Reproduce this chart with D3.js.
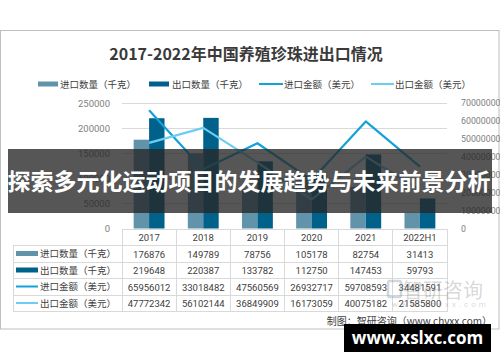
<!DOCTYPE html>
<html><head><meta charset="utf-8">
<script src="https://cdn.jsdelivr.net/npm/d3@7/dist/d3.min.js"></script>
<style>body{margin:0;background:#fff}svg{display:block}</style>
</head><body>
<svg id="c" width="500" height="362"></svg>
<script>
const categories = ["2017","2018","2019","2020","2021","2022H1"];
const importQty = [176876,149789,78756,105178,82754,31413];
const exportQty = [219648,220387,133782,112750,147453,59793];
const importAmt = [65956012,33018482,47560569,26932717,59708593,34481591];
const exportAmt = [47772342,56102144,36849909,16173059,40075182,21585800];
const leftTicks = [0,50000,100000,150000,200000,250000];
const rightTicks = [0,10000000,20000000,30000000,40000000,50000000,60000000,70000000];
const seriesNames = ["进口数量（千克）","出口数量（千克）","进口金额（美元）","出口金额（美元）"];
const title = "2017-2022年中国养殖珍珠进出口情况";
const source = "制图：智研咨询（www.chyxx.com）";
const bannerText = "探索多元化运动项目的发展趋势与未来前景分析";
const siteText = "www.xslxc.com";

const colors = ["#6193ab","#00618a","#12a2db","#6ccdf4"];
const cjk = "'Noto Sans CJK SC','Noto Sans',sans-serif";
const num = "Roboto,'Noto Sans',sans-serif";

const svg = d3.select("#c");
const L = 122, R = 447, T = 103, B = 228.5;

svg.append("rect").attr("x",0.5).attr("y",30.5).attr("width",498.5).attr("height",298.5)
  .attr("fill","#fff").attr("stroke","#bfbfbf");

svg.append("text").attr("x",246).attr("y",60).attr("text-anchor","middle")
  .attr("font-family",cjk).attr("font-weight","bold").attr("font-size",16).attr("fill","#3a3a3a").text(title);

// legend
const legX = [[38,58,60],[149,169,172],[259,283,284],[371,394,395]];
seriesNames.forEach((n,i)=>{
  const [a,b,t] = legX[i];
  if(i<2) svg.append("rect").attr("x",a).attr("y",81.5).attr("width",b-a).attr("height",5).attr("fill",colors[i]);
  else svg.append("line").attr("x1",a).attr("x2",b).attr("y1",84).attr("y2",84).attr("stroke",colors[i]).attr("stroke-width",2);
  svg.append("text").attr("x",t).attr("y",87.5).attr("font-family",cjk).attr("font-size",9.5).attr("fill","#404040").text(n);
});

const x = d3.scaleBand().domain(categories).range([L,R]).paddingInner(0.43).paddingOuter(0.215);
const xs = d3.scaleBand().domain([0,1]).range([0,x.bandwidth()]);
const yL = d3.scaleLinear().domain([0,250000]).range([B,T]);
const yR = d3.scaleLinear().domain([0,70000000]).range([B,T]);
const step = x.step();
const colStart = L;

// gridlines
svg.append("g").selectAll("line").data(leftTicks.slice(1)).join("line")
  .attr("x1",L).attr("x2",R).attr("y1",d=>Math.round(yL(d))+0.5).attr("y2",d=>Math.round(yL(d))+0.5)
  .attr("stroke","#d9d9d9");

// left axis
const gl = svg.append("g").attr("transform",`translate(${L-9},0)`)
  .call(d3.axisLeft(yL).tickValues(leftTicks).tickSize(0).tickFormat(d3.format("d")));
gl.select(".domain").remove();
gl.selectAll("text").attr("font-family",num).attr("font-size",9.5).attr("fill","#7f7f7f").attr("dx",0);
// right axis
const gr = svg.append("g").attr("transform",`translate(${R+11},0)`)
  .call(d3.axisRight(yR).tickValues(rightTicks).tickSize(0).tickFormat(d3.format("d")));
gr.select(".domain").remove();
gr.selectAll("text").attr("font-family",num).attr("font-size",8.8).attr("fill","#7f7f7f").attr("dx",0);

// bars
[importQty,exportQty].forEach((arr,s)=>{
  svg.append("g").selectAll("rect").data(arr).join("rect")
    .attr("x",(d,i)=>x(categories[i])+xs(s)).attr("width",xs.bandwidth())
    .attr("y",d=>yL(d)).attr("height",d=>B-yL(d)).attr("fill",colors[s]);
});
// lines
[importAmt,exportAmt].forEach((arr,s)=>{
  const line = d3.line().x((d,i)=>x(categories[i])+x.bandwidth()/2).y(d=>yR(d));
  svg.append("path").datum(arr).attr("d",line).attr("fill","none")
    .attr("stroke",colors[s+2]).attr("stroke-width",2.2).attr("stroke-linejoin","round");
});

// table
const rowY = [229,245.5,262,278.5,295,311.5];
const tg = svg.append("g").attr("stroke","#d9d9d9").attr("shape-rendering","crispEdges");
tg.append("line").attr("x1",L).attr("x2",R).attr("y1",rowY[0]).attr("y2",rowY[0]);
for(let r=1;r<rowY.length;r++) tg.append("line").attr("x1",13).attr("x2",R).attr("y1",rowY[r]).attr("y2",rowY[r]);
tg.append("line").attr("x1",13).attr("x2",13).attr("y1",rowY[1]).attr("y2",rowY[5]);
for(let c=0;c<=categories.length;c++){
  const cx = colStart + c*step;
  tg.append("line").attr("x1",cx).attr("x2",cx).attr("y1",rowY[0]).attr("y2",rowY[5]);
}
svg.append("g").selectAll("text").data(categories).join("text")
  .attr("x",d=>x(d)+x.bandwidth()/2).attr("y",rowY[0]+12).attr("text-anchor","middle")
  .attr("font-family",num).attr("font-size",9.5).attr("fill","#404040").text(d=>d);
const rows = [importQty,exportQty,importAmt,exportAmt];
rows.forEach((arr,r)=>{
  const yy = rowY[r+1];
  if(r<2) svg.append("rect").attr("x",16).attr("y",yy+5.5).attr("width",22).attr("height",5).attr("fill",colors[r]);
  else svg.append("line").attr("x1",16).attr("x2",38).attr("y1",yy+8).attr("y2",yy+8).attr("stroke",colors[r]).attr("stroke-width",2);
  svg.append("text").attr("x",40).attr("y",yy+11.5).attr("font-family",cjk).attr("font-size",9.5).attr("fill","#404040").text(seriesNames[r]);
  svg.append("g").selectAll("text").data(arr).join("text")
    .attr("x",(d,i)=>x(categories[i])+x.bandwidth()/2).attr("y",yy+12).attr("text-anchor","middle")
    .attr("font-family",num).attr("font-size",9.5).attr("fill","#404040").text(d=>d);
});

// watermark
svg.append("rect").attr("x",388).attr("y",281).attr("width",13).attr("height",16).attr("rx",2)
  .attr("fill","none").attr("stroke","rgba(120,140,160,0.35)").attr("stroke-width",2.5);
svg.append("text").attr("x",403).attr("y",298).attr("font-family",cjk).attr("font-size",20)
  .attr("fill","rgba(120,120,120,0.3)").text("智研咨询");
svg.append("text").attr("x",392).attr("y",307).attr("font-family",num).attr("font-size",8)
  .attr("letter-spacing",3).attr("fill","rgba(120,120,120,0.3)").text("www.chyxx.com");

// source
svg.append("text").attr("x",492).attr("y",325).attr("text-anchor","end")
  .attr("font-family",cjk).attr("font-size",10).attr("fill","#404040").text(source);

// banner
svg.append("rect").attr("x",8).attr("y",149).attr("width",484).attr("height",64).attr("fill","rgba(38,38,38,0.78)");
svg.append("text").attr("x",249).attr("y",190).attr("text-anchor","middle")
  .attr("font-family",cjk).attr("font-weight","bold").attr("font-size",23).attr("fill","#fff").text(bannerText);

// site box
svg.append("rect").attr("x",344).attr("y",324).attr("width",147).attr("height",28).attr("fill","#000");
svg.append("text").attr("x",417.5).attr("y",343.5).attr("text-anchor","middle")
  .attr("font-family","'Open Sans','Noto Sans',sans-serif").attr("font-weight","bold").attr("font-size",17).attr("fill","#fff").text(siteText);
</script>
</body></html>
